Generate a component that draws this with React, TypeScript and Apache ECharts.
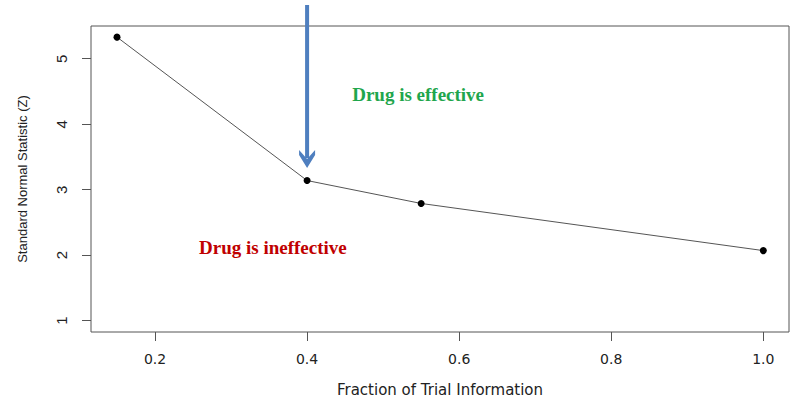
import React, { useEffect, useRef } from "react";
import * as echarts from "echarts";

const fractions = [0.15, 0.4, 0.55, 1.0];
const zValues = [5.33, 3.14, 2.79, 2.07];
const xTicks = [0.2, 0.4, 0.6, 0.8, 1.0];
const yTicks = [1, 2, 3, 4, 5];
const xTitle = "Fraction of Trial Information";
const yTitle = "Standard Normal Statistic (Z)";
const effectiveLabel = "Drug is effective";
const ineffectiveLabel = "Drug is ineffective";
const effectivePos = [0.546, 4.45];
const ineffectivePos = [0.355, 2.11];
const arrowX = 0.4;
const arrowTipY = 3.33;
const arrowTopY = 5.82;

export default function App() {
  const ref = useRef<HTMLDivElement>(null);
  useEffect(() => {
    if (!ref.current) return;
    const chart = echarts.init(ref.current, null, { renderer: "svg" });
    const data = fractions.map((f, i) => [f, zValues[i]]);
    chart.setOption({
      animation: false,
      backgroundColor: "#ffffff",
      grid: {
        left: 91,
        right: 11,
        top: 26,
        bottom: 71,
        show: true,
        borderColor: "#555",
        borderWidth: 1,
        backgroundColor: "transparent",
      },
      xAxis: {
        type: "value",
        min: 0.1158,
        max: 1.0338,
        name: xTitle,
        nameLocation: "middle",
        nameGap: 50,
        nameTextStyle: { fontFamily: "DejaVu Sans", fontSize: 15, color: "#222" },
        axisLine: { show: false },
        axisTick: {
          show: true,
          customValues: xTicks,
          length: 9,
          lineStyle: { color: "#555" },
        },
        axisLabel: {
          customValues: xTicks,
          formatter: (v: number) => v.toFixed(1),
          fontFamily: "DejaVu Sans",
          fontSize: 14,
          color: "#222",
          margin: 20,
        },
        splitLine: { show: false },
      },
      yAxis: {
        type: "value",
        min: 0.827,
        max: 5.5,
        name: yTitle,
        nameLocation: "middle",
        nameGap: 62,
        nameRotate: 90,
        nameTextStyle: { fontFamily: "Liberation Sans", fontSize: 13, color: "#222" },
        axisLine: { show: false },
        axisTick: {
          show: true,
          customValues: yTicks,
          length: 9,
          lineStyle: { color: "#555" },
        },
        axisLabel: {
          customValues: yTicks,
          rotate: 90,
          fontFamily: "Liberation Sans",
          fontSize: 15,
          color: "#222",
          margin: 22,
        },
        splitLine: { show: false },
      },
      series: [
        {
          type: "line",
          data,
          symbol: "circle",
          symbolSize: 7,
          itemStyle: { color: "#000" },
          lineStyle: { color: "#555", width: 1 },
        },
      ],
    });

    const px = (p: number[]) => chart.convertToPixel({ gridIndex: 0 }, p) as number[];
    const tip = px([arrowX, arrowTipY]);
    const top = px([arrowX, arrowTopY]);
    const eff = px(effectivePos);
    const ineff = px(ineffectivePos);
    const ax = tip[0];
    const ty = tip[1];
    const blue = "#4f7fbf";
    chart.setOption({
      graphic: [
        {
          type: "line",
          shape: { x1: ax, y1: top[1], x2: ax, y2: ty - 10 },
          style: { stroke: blue, lineWidth: 4 },
        },
        {
          type: "polygon",
          shape: {
            points: [
              [ax - 8, ty - 18],
              [ax, ty - 9],
              [ax + 8, ty - 18],
              [ax + 8, ty - 13],
              [ax, ty],
              [ax - 8, ty - 13],
            ],
          },
          style: { fill: blue },
        },
        {
          type: "text",
          x: eff[0],
          y: eff[1],
          style: {
            text: effectiveLabel,
            fill: "#1fa64d",
            font: "bold 19px 'Liberation Serif'",
            align: "center",
            verticalAlign: "middle",
          },
        },
        {
          type: "text",
          x: ineff[0],
          y: ineff[1],
          style: {
            text: ineffectiveLabel,
            fill: "#c00000",
            font: "bold 19px 'Liberation Serif'",
            align: "center",
            verticalAlign: "middle",
          },
        },
      ],
    });
    return () => chart.dispose();
  }, []);
  return (
    <div
      ref={ref}
      style={{ position: "fixed", left: 0, top: 0, width: 800, height: 403 }}
    />
  );
}
